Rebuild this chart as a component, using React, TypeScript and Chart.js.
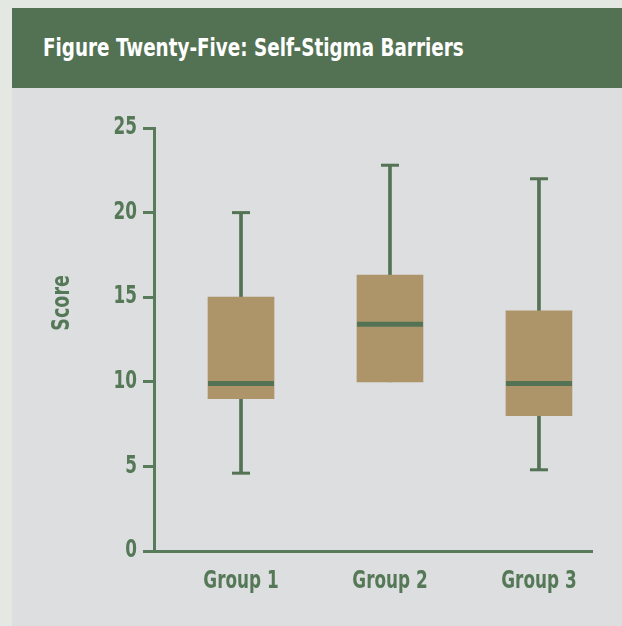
import React, { useEffect, useRef } from "react";
import { Chart, registerables } from "chart.js";

Chart.register(...registerables);

const groups = ["Group 1", "Group 2", "Group 3"];
const positions = [1, 2, 3];
const mins = [4.6, 10, 4.8];
const q1s = [9, 10, 8];
const medians = [9.9, 13.4, 9.9];
const q3s = [15, 16.3, 14.2];
const maxs = [20, 22.8, 22];
const yTicks = [0, 5, 10, 15, 20, 25];

const GREEN = "#547355";
const TEXT_GREEN = "#557857";
const AXIS = "#587b5c";
const TAN = "#ad9569";
const FONT = "'DejaVu Sans Condensed', 'DejaVu Sans', sans-serif";
const SQUEEZE = 0.78;
const BOX_W = 66;
const CAP_W = 18;

// emulate a heavier condensed face by narrowing canvas text horizontally
const condensePlugin = {
  id: "condense",
  beforeDraw(chart: any) {
    const ctx = chart.ctx;
    if (ctx.__condensed) return;
    const orig = ctx.fillText.bind(ctx);
    ctx.fillText = (text: string, x: number, y: number, maxW?: number) => {
      ctx.save();
      ctx.translate(x, y);
      ctx.scale(SQUEEZE, 1);
      if (maxW === undefined) orig(text, 0, 0);
      else orig(text, 0, 0, maxW / SQUEEZE);
      ctx.restore();
    };
    ctx.__condensed = true;
  },
};

const boxPlugin = {
  id: "boxExtras",
  afterDatasetsDraw(chart: any) {
    const xs = chart.scales.x;
    const ys = chart.scales.y;
    const ctx = chart.ctx;
    ctx.save();
    ctx.strokeStyle = GREEN;
    positions.forEach((p, i) => {
      const cx = xs.getPixelForValue(p);
      ctx.lineWidth = 5;
      const my = ys.getPixelForValue(medians[i]);
      ctx.beginPath();
      ctx.moveTo(cx - BOX_W / 2, my);
      ctx.lineTo(cx + BOX_W / 2, my);
      ctx.stroke();
      ctx.lineWidth = 3;
      if (maxs[i] > q3s[i]) {
        const y = ys.getPixelForValue(maxs[i]);
        ctx.beginPath();
        ctx.moveTo(cx - CAP_W / 2, y);
        ctx.lineTo(cx + CAP_W / 2, y);
        ctx.stroke();
      }
      if (mins[i] < q1s[i]) {
        const y = ys.getPixelForValue(mins[i]);
        ctx.beginPath();
        ctx.moveTo(cx - CAP_W / 2, y);
        ctx.lineTo(cx + CAP_W / 2, y);
        ctx.stroke();
      }
    });
    ctx.restore();
  },
};

function BoxChart() {
  const ref = useRef<HTMLCanvasElement | null>(null);
  useEffect(() => {
    if (!ref.current) return;
    const chart = new Chart(ref.current, {
      type: "bar",
      data: {
        datasets: [
          {
            label: "whisker",
            data: positions.map((p, i) => ({ x: p, y: [mins[i], maxs[i]] })) as any,
            backgroundColor: GREEN,
            barThickness: 3,
            grouped: false,
            order: 2,
          } as any,
          {
            label: "box",
            data: positions.map((p, i) => ({ x: p, y: [q1s[i], q3s[i]] })) as any,
            backgroundColor: TAN,
            barThickness: BOX_W,
            grouped: false,
            order: 1,
          } as any,
        ],
      },
      options: {
        animation: false,
        responsive: false,
        maintainAspectRatio: false,
        layout: { padding: { left: 0, top: 40, right: 30, bottom: 0 } },
        plugins: { legend: { display: false }, tooltip: { enabled: false }, title: { display: false } },
        scales: {
          x: {
            type: "linear",
            offset: false,
            min: 0.416,
            max: 3.356,
            afterBuildTicks: (s: any) => {
              s.ticks = positions.map((v) => ({ value: v }));
            },
            afterFit: (s: any) => {
              s.height = 75;
            },
            grid: { drawOnChartArea: false, drawTicks: false, offset: false },
            border: { color: AXIS, width: 3 },
            ticks: {
              autoSkip: false,
              maxRotation: 0,
              padding: 16,
              color: TEXT_GREEN,
              font: { family: FONT, size: 24, weight: "bold" },
              callback: (v: any) => groups[positions.indexOf(v)] ?? "",
            },
          },
          y: {
            type: "linear",
            min: 0,
            max: 25,
            afterBuildTicks: (s: any) => {
              s.ticks = yTicks.map((v) => ({ value: v }));
            },
            afterFit: (s: any) => {
              s.width = 142;
            },
            grid: { drawOnChartArea: false, drawTicks: true, tickLength: 11, color: AXIS, lineWidth: 3 },
            border: { color: AXIS, width: 3 },
            ticks: {
              padding: 6,
              color: TEXT_GREEN,
              font: { family: FONT, size: 24, weight: "bold" },
            },
            title: {
              display: true,
              text: "\u00A0".repeat(12) + "Score",
              color: TEXT_GREEN,
              font: { family: FONT, size: 25, weight: "bold" },
              padding: { top: 35, bottom: 0 },
            },
          },
        },
      } as any,
      plugins: [condensePlugin, boxPlugin],
    });
    return () => chart.destroy();
  }, []);
  return <canvas ref={ref} width={610} height={538} style={{ display: "block", width: 610, height: 538 }} />;
}

export default function App() {
  useEffect(() => {
    document.body.style.background = "#e3e8e3";
  }, []);
  return (
    <div style={{ position: "fixed", left: 12, top: 8, width: 610, height: 618 }}>
      <div
        style={{
          height: 80,
          background: "#537254",
          color: "#ffffff",
          fontFamily: FONT,
          fontWeight: "bold",
          fontSize: 24,
          lineHeight: "80px",
          paddingLeft: 31,
          boxSizing: "border-box",
          whiteSpace: "nowrap",
          overflow: "hidden",
        }}
      >
        <span style={{ display: "inline-block", transform: "scaleX(0.85)", transformOrigin: "left center" }}>
          Figure Twenty-Five: Self-Stigma Barriers
        </span>
      </div>
      <div style={{ background: "#dcdee0", height: 538 }}>
        <BoxChart />
      </div>
    </div>
  );
}
